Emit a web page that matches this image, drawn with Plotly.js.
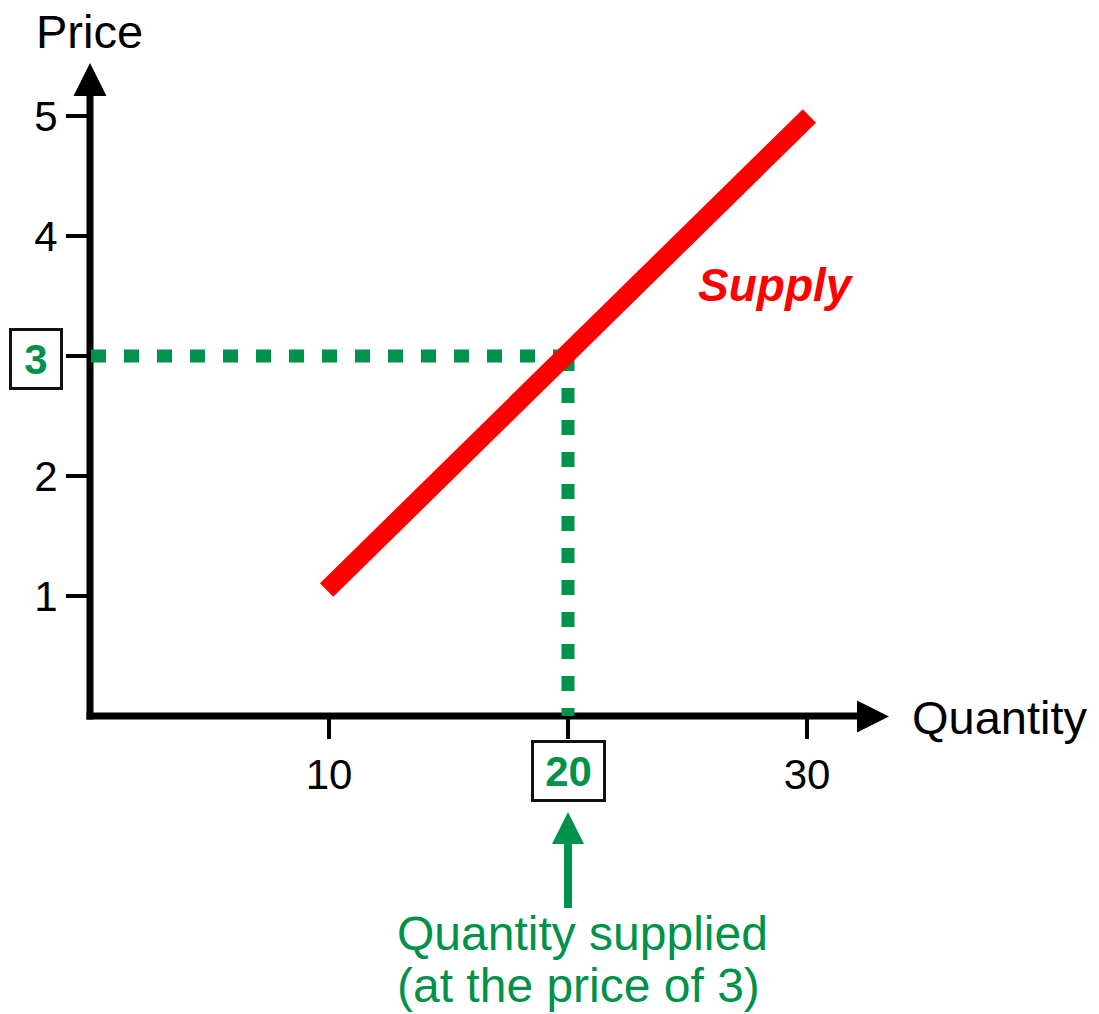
<!DOCTYPE html>
<html>
<head>
<meta charset="utf-8">
<script src="https://cdn.plot.ly/plotly-3.0.1.min.js"></script>
<style>html,body{margin:0;padding:0;background:#fff;}#chart{width:1099px;height:1014px;}</style>
</head>
<body>
<div id="chart"></div>
<script>
// ---- data ----
var supplyQuantity = [9.9, 30.1];
var supplyPrice = [1.05, 5.0];
var chosenPrice = 3;
var chosenQuantity = 20;
var priceTicks = [1, 2, 3, 4, 5];
var priceTickText = ['1', '2', '', '4', '5'];
var quantityTicks = [10, 20, 30];
var quantityTickText = ['10', '', '30'];

// ---- layout geometry (pixels) ----
var W = 1099, H = 1014;
var L = 90, T = 60, PW = 800, PH = 656;
var PX_PER_Q = 23.9, PX_PER_P = 120;
var GREEN = '#00924A', RED = '#FF0000';
var FONT = 'Liberation Sans, Arial, sans-serif';

function px(x) { return (x - L) / PW; }
function py(y) { return (T + PH - y) / PH; }
function pathOf(pts) {
  return pts.map(function (p, i) { return (i ? 'L' : 'M') + px(p[0]) + ',' + py(p[1]); }).join(' ') + ' Z';
}

var traces = [
  { x: [chosenQuantity, chosenQuantity], y: [chosenPrice, 0], mode: 'lines',
    line: { color: GREEN, width: 13, dash: '15px,17px' }, hoverinfo: 'skip', showlegend: false },
  { x: [chosenQuantity, 0], y: [chosenPrice, chosenPrice], mode: 'lines',
    line: { color: GREEN, width: 13, dash: '15px,18px' }, hoverinfo: 'skip', showlegend: false },
  { x: supplyQuantity, y: supplyPrice, mode: 'lines',
    line: { color: RED, width: 19 }, hoverinfo: 'skip', showlegend: false }
];

var shapes = [
  { type: 'line', xref: 'paper', yref: 'paper', x0: px(90), x1: px(90), y0: py(719.5), y1: py(94),
    line: { color: '#000', width: 7 }, layer: 'below' },
  { type: 'line', xref: 'paper', yref: 'paper', x0: px(86.5), x1: px(858), y0: py(716), y1: py(716),
    line: { color: '#000', width: 7 }, layer: 'below' },
  { type: 'path', xref: 'paper', yref: 'paper', path: pathOf([[90, 63], [106.5, 96], [73.5, 96]]),
    fillcolor: '#000', line: { width: 0 }, layer: 'below' },
  { type: 'path', xref: 'paper', yref: 'paper', path: pathOf([[889, 716.5], [857, 700.5], [857, 732.5]]),
    fillcolor: '#000', line: { width: 0 }, layer: 'below' },
  { type: 'path', xref: 'paper', yref: 'paper',
    path: pathOf([[568, 812], [584, 844], [572, 844], [572, 908], [564, 908], [564, 844], [552, 844]]),
    fillcolor: GREEN, line: { width: 0 }, layer: 'above' }
];

function ann(text, x, y, size, color, extra) {
  var a = { text: text, xref: 'paper', yref: 'paper', x: px(x), y: py(y), xanchor: 'center', yanchor: 'middle',
    showarrow: false, font: { family: FONT, size: size, color: color } };
  for (var k in extra) a[k] = extra[k];
  return a;
}

var annotations = [
  ann('Price', 89, 31, 47, '#000'),
  ann('Quantity', 1000, 717, 47, '#000'),
  ann('<b><i>Supply</i></b>', 776, 285, 46, RED),
  ann('<b>' + chosenPrice + '</b>', 36, 359, 42, GREEN,
      { bordercolor: '#111', borderwidth: 3, borderpad: 0, width: 48, height: 56, bgcolor: '#fff' }),
  ann('<b>' + chosenQuantity + '</b>', 568.5, 771, 42, GREEN,
      { bordercolor: '#111', borderwidth: 3, borderpad: 0, width: 69, height: 56, bgcolor: '#fff' }),
  ann('Quantity supplied', 582.5, 933, 48, GREEN),
  ann('(at the price of ' + chosenPrice + ')', 578, 985, 48, GREEN)
];

var layout = {
  width: W, height: H,
  margin: { l: L, r: W - L - PW, t: T, b: H - T - PH, pad: 0 },
  paper_bgcolor: '#fff', plot_bgcolor: 'rgba(0,0,0,0)',
  showlegend: false,
  font: { family: FONT, color: '#000' },
  xaxis: { range: [0, PW / PX_PER_Q], showgrid: false, zeroline: false, showline: false,
    tickmode: 'array', tickvals: quantityTicks, ticktext: quantityTickText,
    ticks: 'outside', ticklen: 22, tickwidth: 4, tickcolor: '#000',
    tickfont: { family: FONT, size: 42, color: '#000' }, fixedrange: true },
  yaxis: { range: [0, PH / PX_PER_P], showgrid: false, zeroline: false, showline: false,
    tickmode: 'array', tickvals: priceTicks, ticktext: priceTickText,
    ticks: 'outside', ticklen: 23, tickwidth: 4, tickcolor: '#000',
    tickfont: { family: FONT, size: 42, color: '#000' }, fixedrange: true },
  shapes: shapes,
  annotations: annotations
};

Plotly.newPlot('chart', traces, layout, { staticPlot: true, displayModeBar: false });
</script>
</body>
</html>
